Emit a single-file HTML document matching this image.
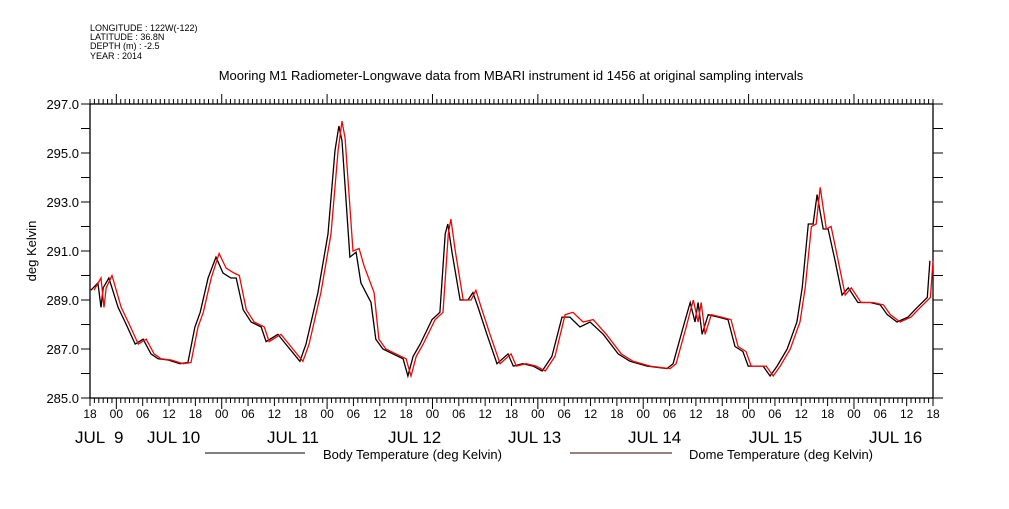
<!DOCTYPE html>
<html><head><meta charset="utf-8"><style>
body{margin:0;background:#fff;}
svg text{font-family:"Liberation Sans",sans-serif;}
</style></head><body>
<svg id="chart" width="1009" height="504" xmlns="http://www.w3.org/2000/svg">
<g font-size="9" fill="#000">
<text x="90" y="31">LONGITUDE : 122W(-122)</text>
<text x="90" y="40">LATITUDE : 36.8N</text>
<text x="90" y="49">DEPTH (m) : -2.5</text>
<text x="90" y="59">YEAR : 2014</text>
</g>
<text x="511" y="80" text-anchor="middle" font-size="13">Mooring M1 Radiometer-Longwave data from MBARI instrument id 1456 at original sampling intervals</text>
<text transform="translate(36,251) rotate(-90)" text-anchor="middle" font-size="13">deg Kelvin</text>
<g id="axes"></g>
<g id="series"></g>
<g>
<line x1="205" y1="453" x2="305" y2="453" stroke="#000"/>
<text x="323" y="459" font-size="13">Body Temperature (deg Kelvin)</text>
<line x1="570" y1="453" x2="672" y2="453" stroke="#300"/>
<text x="689" y="459" font-size="13">Dome Temperature (deg Kelvin)</text>
</g>
</svg>
<script>
// hours since JUL 8 18:00
const bodyHours=[0.2,1.8,2.5,3.0,4.3,6.4,8.0,10.3,12.1,13.9,15.5,17.8,20.5,22.3,23.9,25.1,26.9,28.7,30.3,32.1,33.3,34.9,36.7,39.0,40.1,42.8,44.6,47.8,49.2,51.9,54.2,55.8,56.7,57.4,59.2,60.6,61.7,64.0,65.1,66.7,69.0,71.3,72.4,73.6,75.2,77.9,79.7,80.9,81.5,82.5,84.3,86.1,87.2,88.4,90.4,92.7,95.2,96.4,98.6,100.9,103.0,105.2,107.5,109.3,111.6,113.9,116.9,120.3,123.0,126.9,131.4,132.8,135.1,136.7,137.8,138.5,139.4,140.8,143.1,145.3,146.9,148.7,149.9,153.3,154.9,156.5,158.8,161.0,162.2,163.6,164.7,165.6,167.0,168.1,169.7,171.3,172.7,174.9,177.7,180.0,181.6,183.8,186.3,188.4,190.7,191.3];
const bodyTemp=[289.4,289.7,288.7,289.5,289.9,288.7,288.1,287.2,287.4,286.8,286.6,286.55,286.4,286.45,287.9,288.5,289.9,290.75,290.1,289.9,289.9,288.6,288.1,287.9,287.3,287.6,287.2,286.5,287.2,289.3,291.7,295.1,296.1,295.5,290.75,290.95,289.7,288.9,287.4,287.0,286.8,286.6,285.9,286.7,287.2,288.2,288.5,291.7,292.1,290.9,289.0,289.0,289.3,288.7,287.6,286.4,286.8,286.3,286.4,286.3,286.1,286.7,288.3,288.3,287.9,288.1,287.6,286.8,286.5,286.3,286.2,286.4,287.9,288.9,288.1,288.9,287.6,288.4,288.3,288.2,287.1,286.9,286.3,286.3,285.9,286.3,287.0,288.1,289.5,292.1,292.1,293.3,291.9,291.9,290.6,289.2,289.5,288.9,288.9,288.8,288.4,288.1,288.3,288.7,289.1,290.6];
const domeHours=[0.9,2.5,3.2,3.7,5.0,7.1,8.7,11.0,12.8,14.6,
16.2,18.5,21.2,23.0,24.6,25.8,27.6,29.4,31.0,32.8,
34.0,35.6,37.4,39.7,40.8,43.5,45.3,48.5,49.9,52.6,
54.9,56.5,57.4,58.1,59.9,61.3,62.4,64.7,65.8,67.4,
69.7,72.0,73.1,74.3,75.9,78.6,80.4,81.6,82.2,83.2,
85.0,86.8,87.9,89.1,91.1,93.4,95.9,97.1,99.3,101.6,
103.7,105.9,108.2,110.0,112.3,114.6,117.6,121.0,123.7,127.6,
132.1,133.5,135.8,137.4,138.5,139.2,140.1,141.5,143.8,146.0,
147.6,149.4,150.6,154.0,155.6,157.2,159.5,161.7,162.9,164.3,
165.4,166.3,167.7,168.8,170.4,172.0,173.4,175.6,178.4,180.7,
182.3,184.5,187.0,189.1,191.4,192.0];
const domeTemp=[289.4,289.9,288.7,289.5,290.0,288.7,288.1,287.2,287.4,286.8,
286.6,286.55,286.4,286.45,287.9,288.5,289.9,290.9,290.3,290.1,
290.0,288.6,288.1,287.9,287.3,287.6,287.2,286.5,287.2,289.3,
291.7,295.1,296.3,295.6,291.0,291.1,290.4,289.3,287.4,287.0,
286.8,286.6,285.9,286.7,287.2,288.2,288.5,291.7,292.3,291.0,
289.0,289.0,289.4,288.7,287.6,286.4,286.8,286.3,286.4,286.3,
286.1,286.7,288.4,288.5,288.1,288.2,287.6,286.8,286.5,286.3,
286.2,286.4,287.9,289.0,288.1,288.9,287.6,288.4,288.3,288.2,
287.1,286.9,286.3,286.3,285.9,286.3,287.0,288.1,289.5,292.0,
292.1,293.6,291.9,292.0,290.6,289.2,289.5,288.9,288.9,288.8,
288.4,288.1,288.3,288.7,289.1,290.6];
const yTicks=[285,287,289,291,293,295,297];
const hourLabels=["18","00","06","12"];
const dayLabels=["JUL  9","JUL 10","JUL 11","JUL 12","JUL 13","JUL 14","JUL 15","JUL 16"];
const dayLabelX=[75,147,267,388,508,628,749,869];

const X0=90,X1=933,Y0=104,Y1=398,H=192,TMIN=285,TMAX=297;
function xs(h){return X0+(h/H)*(X1-X0);}
function ys(t){return Y1-(t-TMIN)/(TMAX-TMIN)*(Y1-Y0);}
const NS="http://www.w3.org/2000/svg";
function mk(tag,attrs,parent){const e=document.createElementNS(NS,tag);for(const k in attrs)e.setAttribute(k,attrs[k]);parent.appendChild(e);return e;}
const ax=document.getElementById('axes');
let r=mk('rect',{x:X0,y:Y0,width:X1-X0,height:Y1-Y0,fill:'none',stroke:'#000','stroke-width':1.3},ax);


let d='';
for(let t=TMIN;t<=TMAX;t++){const y=ys(t);d+=`M${X0-9},${y}H${X0}M${X1},${y}H${X1+10}`;}
for(let h=0;h<=H;h++){const x=xs(h);const hod=(18+h)%24;
 const bl=hod===0?11:(hod%6===0?8:5); d+=`M${x},${Y1}v${bl}`;
 const tl=hod===0?10:5; d+=`M${x},${Y0}v${-tl}`;}
let tk=mk('path',{d:d,stroke:'#000','stroke-width':1,fill:'none'},ax);


yTicks.forEach(t=>{let e=mk('text',{x:X0-11,y:ys(t)+5,'text-anchor':'end','font-size':13},ax);e.textContent=t.toFixed(1);
 
 });
for(let h=0;h<=H;h+=6){const hod=(18+h)%24;let e=mk('text',{x:xs(h),y:418,'text-anchor':'middle','font-size':12},ax);e.textContent=hourLabels[[18,0,6,12].indexOf(hod)];
 
 }
dayLabels.forEach((s,i)=>{let e=mk('text',{x:dayLabelX[i],y:443,'font-size':17},ax);e.setAttribute('style','white-space:pre');e.textContent=s;
 
 });
const sg=document.getElementById('series');
function line(hs,ts,color,name){const n=Math.min(hs.length,ts.length);let p='';for(let i=0;i<n;i++)p+=(i?'L':'M')+xs(hs[i]).toFixed(1)+','+ys(ts[i]).toFixed(1);
 let e=mk('path',{d:p,stroke:color,'stroke-width':1.3,fill:'none'},sg);
 
 }
line(bodyHours,bodyTemp,'#000','body-temperature-line');
line(domeHours,domeTemp,'#f00','dome-temperature-line');
</script>
</body></html>
